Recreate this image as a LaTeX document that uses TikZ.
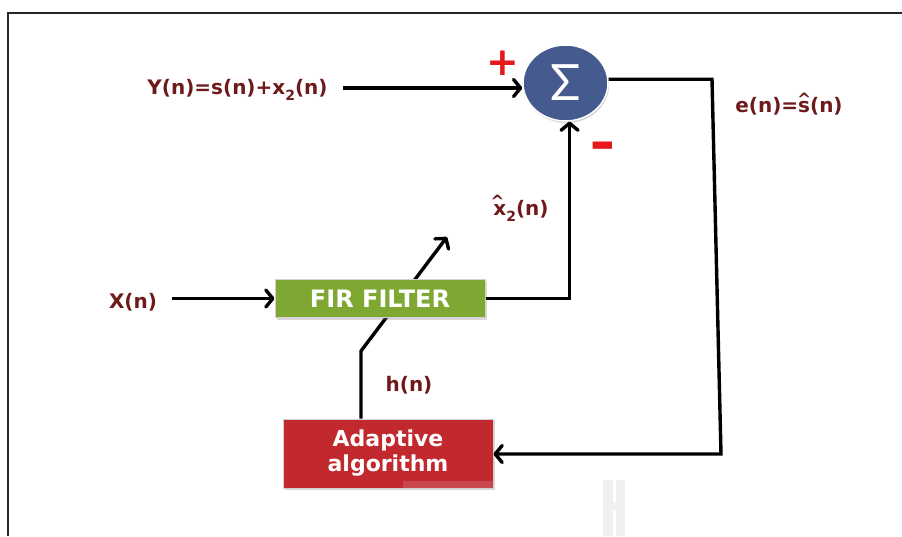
\documentclass[tikz,border=0pt]{standalone}
\usepackage{fontspec}
\setmainfont{DejaVu Sans}
\newfontfamily\sigfont{Lato}
\usetikzlibrary{arrows.meta,shapes.geometric,shadows,backgrounds}
\usepackage{graphicx}
\definecolor{lblc}{HTML}{6E1A1A}
\definecolor{sgnred}{HTML}{E8171B}
\definecolor{sumblue}{HTML}{455A8E}
\definecolor{firgreen}{HTML}{7EA832}
\definecolor{adred}{HTML}{C1292E}
\newcommand\subtwo{\raisebox{-0.28em}{\fontsize{14}{14}\selectfont 2}}
\newcommand\hatover[3]{\makebox[0pt][l]{\kern#1pt\raisebox{#2pt}{\fontsize{17}{17}\selectfont\textasciicircum}}#3}
\begin{document}
\begin{tikzpicture}[x=1pt,y=-1pt,
  lbl/.style={text=lblc,font=\fontsize{20}{20}\selectfont\bfseries,inner sep=0pt},
  sgn/.style={text=sgnred,font=\fontsize{34}{34}\selectfont\bfseries,inner sep=0pt},
  ln/.style={line width=3.4pt,black,line join=miter},
  arr/.style={ln,-{Straight Barb[length=7pt,width=17pt,round]}},
  blk/.style={rectangle,draw=white!82!black,line width=1pt,text=white,
    minimum width=210pt,inner sep=0pt,align=center,
    drop shadow={shadow xshift=1.5pt,shadow yshift=-2pt,opacity=0.3}}]
\useasboundingbox (0,0) rectangle (902,536);
% frame
\draw[line width=2pt,black!85] (902,12.5) -- (8,12.5) -- (8,536);
% faint artefact
\fill[black!6] (603,480) rectangle (625,536);
\fill[white] (613,480) rectangle (615.5,503);
\fill[white] (613,510) rectangle (615.5,536);
% nodes
\node[ellipse,minimum width=85pt,minimum height=76pt,inner sep=0pt,fill=sumblue,
  draw=white,line width=1.5pt,text=white,
  drop shadow={shadow xshift=1pt,shadow yshift=-2pt,opacity=0.35}] (sum) at (565.5,83)
  {\sigfont\fontsize{50}{50}\selectfont Σ};
\node[blk,fill=firgreen,minimum height=38pt,font=\fontsize{24}{24}\selectfont\bfseries]
  (fir) at (380,298.5) {FIR FILTER};
\node[blk,fill=adred,minimum height=69pt,font=\fontsize{22}{25}\selectfont\bfseries]
  (adapt) at (388,453.5) {Adaptive\\algorithm};
\fill[white,opacity=0.15] (403,480.5) rectangle (492.5,487.5);
% labels
\node[lbl] (ylab) at (237.5,90) {Y(n)=s(n)+x\subtwo(n)};
\node[lbl] (elab) at (789,104) {e(n)=\hatover{-1}{7.5}{s}(n)};
\node[lbl] (x2lab) at (521,208) {\hatover{-3}{8.5}{x}\subtwo(n)};
\node[lbl] (xlab) at (133,302) {X(n)};
\node[lbl] (hlab) at (409,385) {h(n)};
\node[sgn] (plus) at (503,63) {\scalebox{1.15}{+}};
\node[sgn] (minus) at (603,152) {\scalebox{1.45}[1.7]{–}};
% connectors
\coordinate (yin) at (343,88);
\coordinate (xin) at (172,298.5);
\coordinate (ctr) at (712,79);
\coordinate (cbr) at (721,454);
\coordinate (hb) at (361,351);
\coordinate (ht) at (447,237);
\draw[arr] (yin) -- (yin -| sum.west);
\draw[arr] (xin) -- (fir.west);
\draw[arr] (fir.east) -| (sum.-84);
\draw[arr] (sum.5) -- (sum.5 -| ctr) -- (cbr) -- (cbr -| adapt.east);
\begin{scope}[on background layer]
\draw[arr] (adapt.north -| hb) -- (hb) -- (ht);
\end{scope}
\end{tikzpicture}
\end{document}
